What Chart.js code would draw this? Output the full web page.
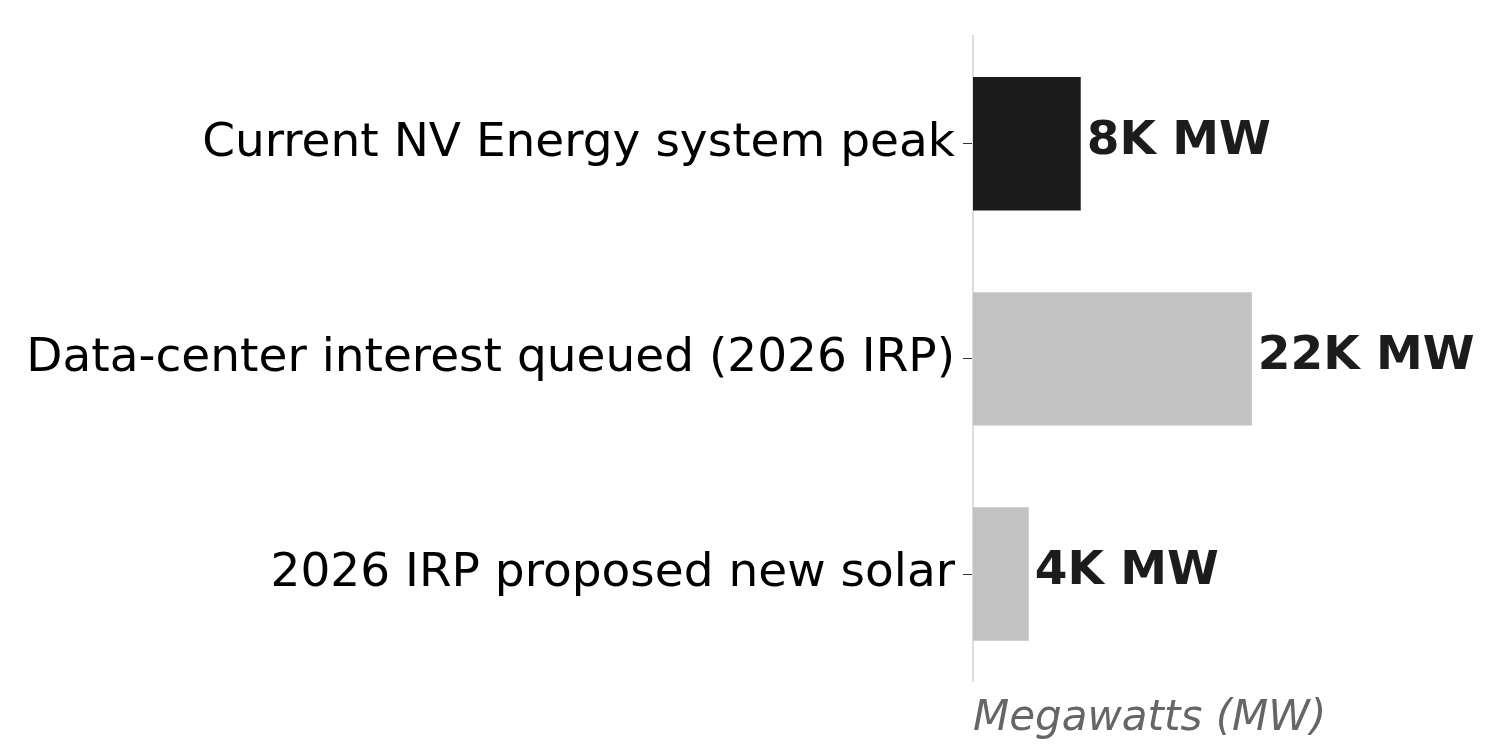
<!DOCTYPE html>
<html><head><meta charset="utf-8">
<script src="https://cdn.jsdelivr.net/npm/chart.js@4"></script>
<style>html,body{margin:0;background:#fff}#w{width:1492px;height:752px}</style>
</head><body><div id="w"><canvas id="c"></canvas></div>
<script>
const categories=["Current NV Energy system peak","Data-center interest queued (2026 IRP)","2026 IRP proposed new solar"];
const values=[8500,22000,4400];
const valueLabels=["8K MW","22K MW","4K MW"];
const colors=["#1c1c1c","#c2c2c2","#c2c2c2"];
const labelPlugin={id:"vl",afterDatasetsDraw(ch){const ctx=ch.ctx;const m=ch.getDatasetMeta(0);ctx.save();ctx.font="bold 47px 'DejaVu Sans'";ctx.fillStyle="#1c1c1c";ctx.textBaseline="middle";m.data.forEach((b,i)=>{ctx.fillText(valueLabels[i],b.x+6,b.y-2);});ctx.restore();}};
new Chart(document.getElementById("c"),{type:"bar",
data:{labels:categories,datasets:[{data:values,backgroundColor:colors,barPercentage:0.62,categoryPercentage:1}]},
options:{indexAxis:"y",responsive:true,maintainAspectRatio:false,animation:false,
layout:{padding:{top:-22,right:12,left:0,bottom:8}},
plugins:{legend:{display:false},tooltip:{enabled:false}},
scales:{
x:{min:0,max:40000,ticks:{display:false},grid:{display:false},border:{display:false},
 title:{display:true,text:"Megawatts (MW)",align:"start",color:"#666",font:{family:"DejaVu Sans",size:42,style:"italic"},padding:{top:4,bottom:0}}},
y:{afterFit(s){s.width=973;},grid:{drawOnChartArea:false,offset:false,tickLength:10,color:"#333"},border:{color:"#ddd",width:2},
 ticks:{color:"#000",font:{family:"DejaVu Sans",size:47},padding:8}}}},
plugins:[labelPlugin]});
</script></body></html>
